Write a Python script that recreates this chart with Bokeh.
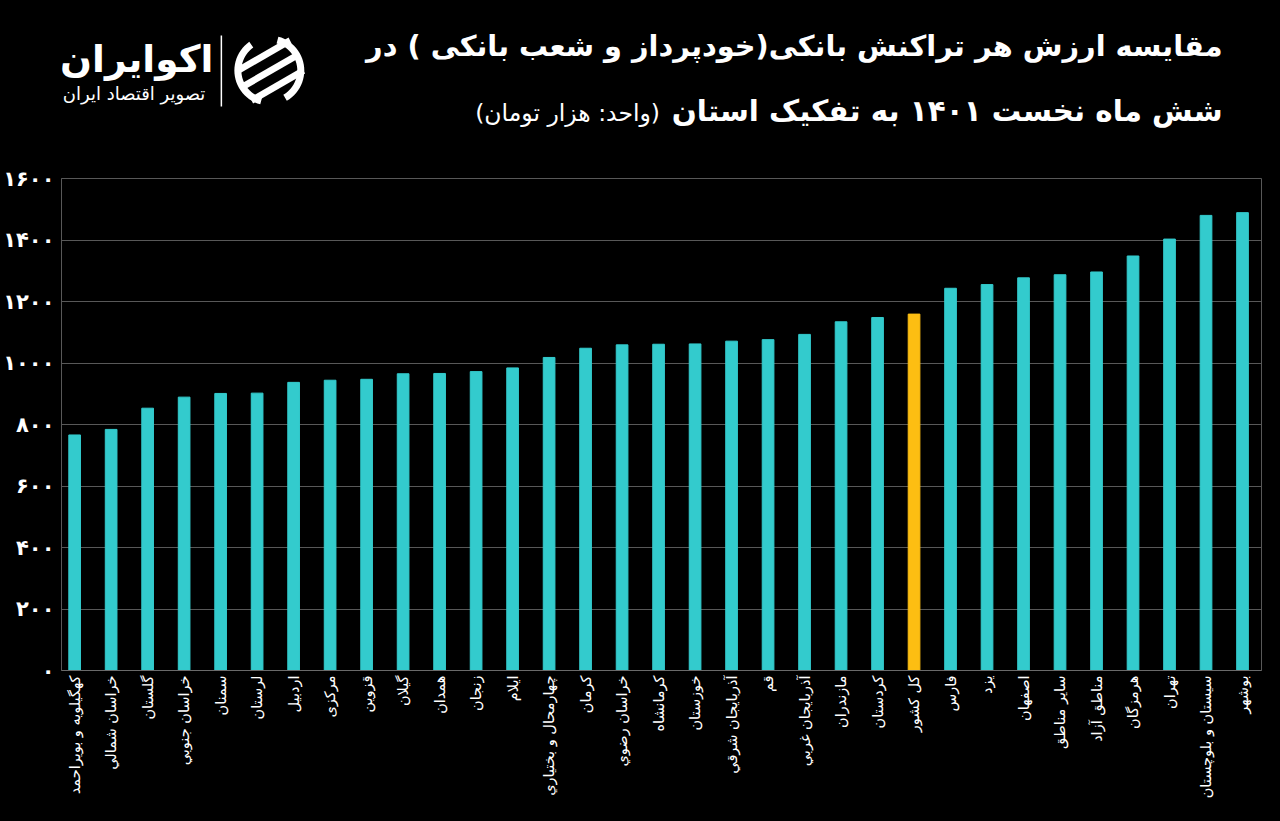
import math
from bokeh.plotting import figure
from bokeh.models import Range1d, FixedTicker, ColumnDataSource
from bokeh.layouts import column
from bokeh.embed import file_html
from bokeh.resources import INLINE
from bokeh.core.properties import value

# ---------------- data ----------------
provinces = [
    "کهگیلویه و بویراحمد", "خراسان شمالي", "گلستان", "خراسان جنوبي", "سمنان",
    "لرستان", "اردبیل", "مرکزی", "قزوین", "گیلان", "همدان", "زنجان", "ایلام",
    "چهارمحال و بختياري", "کرمان", "خراسان رضوي", "کرمانشاه", "خوزستان",
    "آذربایجان شرقي", "قم", "آذربایجان غربي", "مازندران", "کردستان", "کل کشور",
    "فارس", "یزد", "اصفهان", "سایر مناطق", "مناطق آزاد", "هرمزگان", "تهران",
    "سیستان و بلوچستان", "بوشهر",
]
values = [
    766, 784, 853, 889, 901, 902, 937, 944, 947, 965, 966, 972, 984,
    1018, 1048, 1059, 1061, 1062, 1071, 1076, 1093, 1134, 1148, 1159,
    1243, 1255, 1277, 1287, 1296, 1348, 1403, 1480, 1489,
]
highlight = "کل کشور"
y_ticks = [0, 200, 400, 600, 800, 1000, 1200, 1400, 1600]

title_line1 = "مقایسه ارزش هر تراکنش بانکی(خودپرداز و شعب بانکی ) در"
title_line2_bold = "شش ماه نخست ۱۴۰۱ به تفکیک استان"
title_line2_unit = "(واحد: هزار تومان)"
brand = "اکوایران"
brand_sub = "تصویر اقتصاد ایران"

FA_DIGITS = str.maketrans("0123456789", "۰۱۲۳۴۵۶۷۸۹")


def to_fa(n):
    return str(n).translate(FA_DIGITS)


# ---------------- style ----------------
W = 1280
HEAD_H = 166
CHART_H = 655
B_LEFT, B_RIGHT = 60, 19
BG = "#000000"
BAR = "#33CBCD"
HL = "#FDBE12"
GRID = "#585858"
FONT = "DejaVu Sans"

# ---------------- header (page-pixel coordinates, frame aligned with chart) ----------------
header = figure(width=W, height=HEAD_H, x_range=Range1d(B_LEFT, W - B_RIGHT),
                y_range=Range1d(HEAD_H, 0), x_axis_type=None, y_axis_type=None,
                output_backend="svg", toolbar_location=None,
                min_border_left=B_LEFT, min_border_right=B_RIGHT, min_border_top=0,
                min_border_bottom=0, background_fill_color=BG, border_fill_color=BG,
                outline_line_color=None)
header.grid.visible = False


def htext(x, y, text, size, bold=False):
    header.text(x=[x], y=[y], text=[text], text_align="right", text_baseline="middle",
                text_font=value(FONT), text_font_style="bold" if bold else "normal",
                text_font_size=size, text_color="white")


htext(1222, 45, title_line1, "28.8px", True)
htext(1222, 110, title_line2_bold, "29.4px", True)
htext(659, 112, title_line2_unit, "23.5px")
htext(212, 58, brand, "37.5px", True)
htext(204, 93, brand_sub, "18px")

header.segment(x0=[220], y0=[35], x1=[220], y1=[106], line_color="white", line_width=1.5)

# logo icon: ring segments + slanted ribbons
cx, cy, ro, ri = 268, 70, 35, 28


def ring(a0, a1):
    outer = [(cx + ro * math.cos(math.radians(a)), cy + ro * math.sin(math.radians(a)))
             for a in range(a0, a1 + 1, 5)]
    inner = [(cx + ri * math.cos(math.radians(a)), cy + ri * math.sin(math.radians(a)))
             for a in range(a1, a0 - 1, -5)]
    pts = outer + inner
    header.patch(x=[q[0] for q in pts], y=[q[1] for q in pts], fill_color="white",
                 line_color=None)


ring(105, 235)
ring(-75, 60)
for k in (-15, 0, 15):
    x0, y0 = cx - 26 + k * 0.45, cy + 15 + k
    x1, y1 = cx + 26 + k * 0.45, cy - 15 + k
    header.patch(x=[x0, x1, x1 + 3, x0 + 3], y=[y0 - 3, y1 - 3, y1 + 3, y0 + 3],
                 fill_color="white", line_color=None)

# ---------------- chart ----------------
n = len(provinces)
src = ColumnDataSource(dict(
    x=list(range(n)),
    top=values,
    color=[HL if p == highlight else BAR for p in provinces],
))

p = figure(width=W, height=CHART_H, x_range=Range1d(-0.36, n - 1 + 0.52),
           y_range=Range1d(0, 1600), output_backend="svg", toolbar_location=None,
           min_border_left=B_LEFT, min_border_right=B_RIGHT, min_border_top=12,
           min_border_bottom=151, background_fill_color=BG, border_fill_color=BG,
           outline_line_color=GRID)

p.vbar(x="x", top="top", width=0.32, color="color", source=src)

p.xgrid.visible = False
p.ygrid.grid_line_color = GRID
p.ygrid.grid_line_width = 1

xa = p.xaxis[0]
xa.ticker = FixedTicker(ticks=list(range(n)))
xa.major_label_overrides = {i: name for i, name in enumerate(provinces)}
xa.major_label_orientation = math.pi / 2
xa.major_tick_line_color = None
xa.major_tick_out = 0
xa.major_tick_in = 0
xa.minor_tick_line_color = None
xa.axis_line_color = "#6a6a6a"
xa.major_label_text_color = "white"
xa.major_label_text_font = FONT
xa.major_label_text_font_size = "14.5px"
xa.major_label_standoff = 5

ya = p.yaxis[0]
ya.ticker = FixedTicker(ticks=y_ticks)
ya.major_label_overrides = {t: to_fa(t) for t in y_ticks}
ya.major_tick_line_color = None
ya.major_tick_out = 0
ya.major_tick_in = 0
ya.minor_tick_line_color = None
ya.axis_line_color = GRID
ya.major_label_text_color = "white"
ya.major_label_text_font = FONT
ya.major_label_text_font_style = "bold"
ya.major_label_text_font_size = "21px"
ya.major_label_standoff = 7

layout = column(header, p, spacing=0, background=BG)

open("out.html", "w").write(file_html(layout, INLINE))
